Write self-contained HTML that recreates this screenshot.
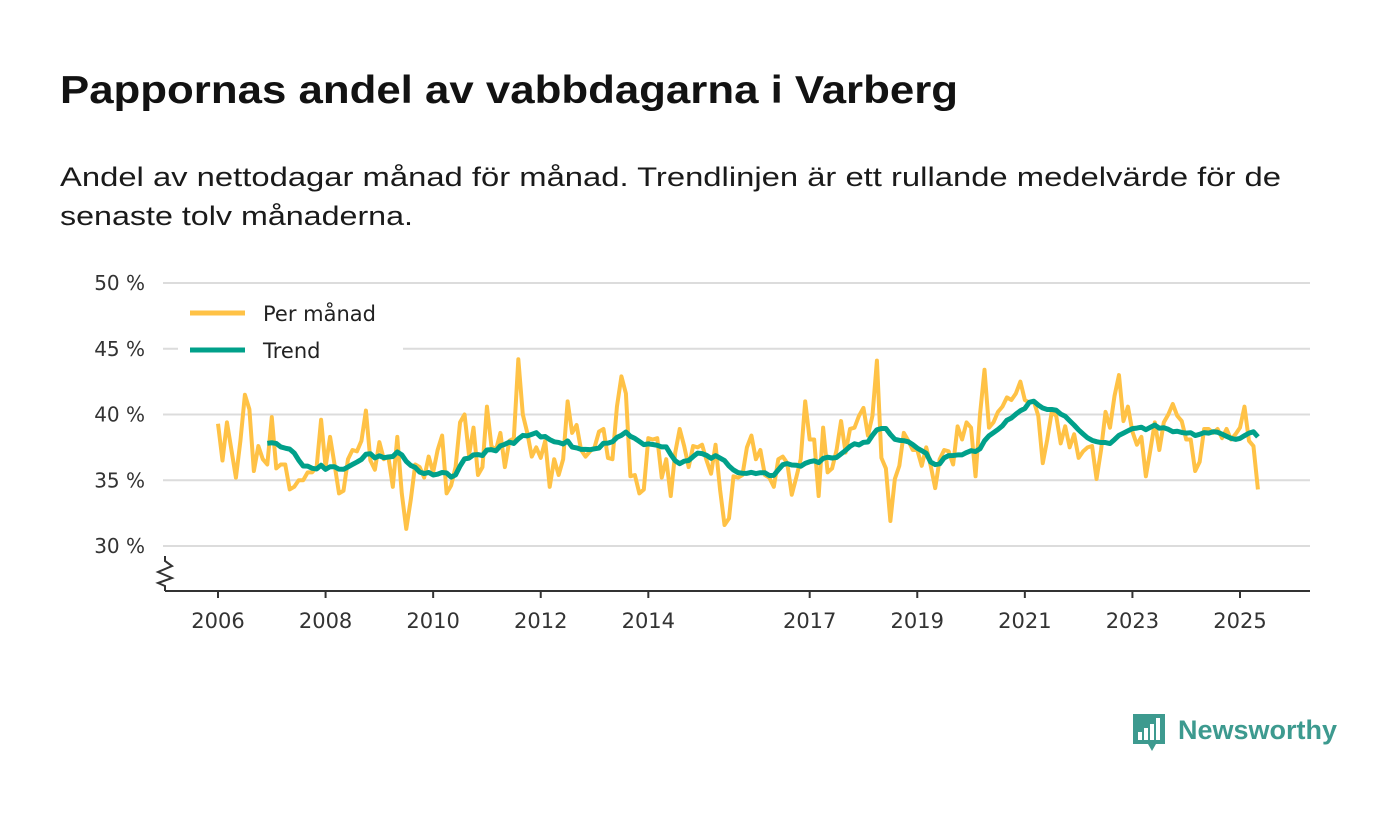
<!DOCTYPE html>
<html><head><meta charset="utf-8">
<style>
body{margin:0;background:#fff;font-family:"Liberation Sans","DejaVu Sans",sans-serif;}
#wrap{position:relative;width:1400px;height:813px;overflow:hidden;}
svg{position:absolute;left:0;top:0;}
</style></head><body>
<div id="wrap">
<svg id="chart" width="1400" height="813">
<text x="60" y="103" font-size="39" font-weight="bold" fill="#121212" textLength="898" lengthAdjust="spacingAndGlyphs" font-family="Liberation Sans, sans-serif">Pappornas andel av vabbdagarna i Varberg</text>
<text x="60" y="186" font-size="27" fill="#1a1a1a" textLength="1221" lengthAdjust="spacingAndGlyphs" font-family="Liberation Sans, sans-serif">Andel av nettodagar månad för månad. Trendlinjen är ett rullande medelvärde för de</text>
<text x="60" y="225" font-size="27" fill="#1a1a1a" textLength="353" lengthAdjust="spacingAndGlyphs" font-family="Liberation Sans, sans-serif">senaste tolv månaderna.</text>
</svg>
</div>
<script>
const startYear = 2006;
const monthly = [
39.3,36.5,39.4,37.3,35.2,38.0,41.5,40.4,35.7,37.6,36.6,36.2,
39.8,35.9,36.2,36.2,34.3,34.5,35.0,35.0,35.6,35.6,36.0,39.6,
36.0,38.3,36.2,34.0,34.2,36.6,37.3,37.2,38.0,40.3,36.5,35.8,
37.9,36.6,36.8,34.5,38.3,34.0,31.3,33.5,36.2,36.0,35.2,36.8,
35.6,37.3,38.4,34.0,34.6,36.0,39.4,40.0,36.9,39.0,35.4,36.0,
40.6,37.6,37.3,38.6,36.0,38.0,38.2,44.2,40.0,38.6,36.8,37.5,
36.7,38.0,34.5,36.6,35.4,36.6,41.0,38.6,39.2,37.3,36.8,37.2,
37.5,38.7,38.9,36.7,36.6,40.6,42.9,41.6,35.3,35.4,34.0,34.3,
38.2,38.1,38.2,35.2,36.6,33.8,37.1,38.9,37.6,36.0,37.6,37.5,
37.7,36.5,35.5,37.7,34.3,31.6,32.1,35.3,35.2,35.4,37.5,
38.4,36.6,37.3,35.4,35.2,34.5,36.6,36.8,36.3,33.9,35.2,36.6,41.0,38.1,38.1,33.8,39.0,35.6,
35.9,37.3,39.5,37.1,38.9,39.0,39.9,40.5,38.4,39.9,44.1,36.7,35.9,31.9,35.1,36.1,38.6,38.0,
37.3,37.3,36.1,37.5,36.1,34.4,36.6,37.3,37.2,36.2,39.1,38.1,39.4,39.0,35.3,40.0,43.4,39.0,
39.4,40.2,40.6,41.3,
41.1,41.6,42.5,41.1,40.9,41.0,39.9,36.3,38.1,40.2,39.9,37.8,39.1,37.5,38.5,36.7,37.2,37.5,
37.6,35.1,37.3,40.2,39.0,41.4,43.0,39.5,40.6,38.7,37.7,38.3,35.3,37.3,39.4,37.3,39.4,40.0,
40.8,39.9,39.5,38.1,38.1,35.7,36.4,38.9,38.9,38.6,38.9,38.2,38.9,38.1,38.5,39.0,40.6,38.0,37.6,34.3
];
const yTicks = [30,35,40,45,50];
const yTickLabels = ["30 %","35 %","40 %","45 %","50 %"];
const xTicks = [2006,2008,2010,2012,2014,2017,2019,2021,2023,2025];
const xTickLabels = ["2006","2008","2010","2012","2014","2017","2019","2021","2023","2025"];
const legendLabels = ["Per månad","Trend"];

const NS="http://www.w3.org/2000/svg";
const svg=document.getElementById('chart');
const FF='DejaVu Sans, sans-serif';
const x0=218,x1=1240,xa=2006,xb=2025;
const X=t=>x0+(t-xa)*(x1-x0)/(xb-xa);
const Y=v=>546-(v-30)*(546-283)/20;
function mk(tag,attrs){const e=document.createElementNS(NS,tag);for(const k in attrs)e.setAttribute(k,attrs[k]);svg.appendChild(e);return e;}

yTicks.forEach((v,i)=>{
  const g=mk('line',{x1:163,x2:1310,y1:Y(v),y2:Y(v),stroke:'#dcdcdc','stroke-width':2});
  
  
  const t=mk('text',{x:145,y:Y(v)+7,'text-anchor':'end','font-size':20,fill:'#333','font-family':FF});
  t.textContent=yTickLabels[i];
  
  
});
const ax=mk('line',{x1:165,x2:1310,y1:591,y2:591,stroke:'#333','stroke-width':2});


const brk=mk('polyline',{points:'165,556 165,561 172,566 158,572 172,578 158,583 165,586 165,591',fill:'none',stroke:'#333','stroke-width':2});


xTicks.forEach((v,i)=>{
  const l=mk('line',{x1:X(v),x2:X(v),y1:591,y2:598,stroke:'#333','stroke-width':2});
  
  
  const t=mk('text',{x:X(v),y:628,'text-anchor':'middle','font-size':21,fill:'#333','font-family':FF});
  t.textContent=xTickLabels[i];
  
  
});
const tx=i=>X(startYear+i/12);
const mp=mk('polyline',{points:monthly.map((v,i)=>tx(i)+','+Y(v)).join(' '),fill:'none',stroke:'#ffc246','stroke-width':4,'stroke-linejoin':'round'});


const trend=[];
for(let i=11;i<monthly.length;i++){let s=0;for(let j=i-11;j<=i;j++)s+=monthly[j];trend.push([i,s/12]);}
const tp=mk('polyline',{points:trend.map(p=>tx(p[0])+','+Y(p[1])).join(' '),fill:'none',stroke:'#00a08a','stroke-width':5,'stroke-linejoin':'round'});


const lb=mk('rect',{x:178,y:292,width:225,height:78,fill:'#fff'});


["#ffc246","#00a08a"].forEach((c,i)=>{
  const yy=313+i*37;
  const l=mk('line',{x1:190,x2:245,y1:yy,y2:yy,stroke:c,'stroke-width':5});
  
  
  const t=mk('text',{x:263,y:yy+8,'font-size':21,fill:'#222','font-family':FF});
  t.textContent=legendLabels[i];
  
  
});
const lg=mk('g',{});


const p=document.createElementNS(NS,'path');
p.setAttribute('d','M1133 714 h32 v30 h-9 l-4 7 l-4 -7 h-15 z');p.setAttribute('fill','#3d9a8f');lg.appendChild(p);
[[1138,732,4,8],[1144,728,4,12],[1150,724,4,16],[1156,718,4,22]].forEach(r=>{const b=document.createElementNS(NS,'rect');b.setAttribute('x',r[0]);b.setAttribute('y',r[1]);b.setAttribute('width',r[2]);b.setAttribute('height',r[3]);b.setAttribute('fill','#fff');lg.appendChild(b);});
const lt=document.createElementNS(NS,'text');
lt.setAttribute('x',1178);lt.setAttribute('y',739);lt.setAttribute('font-size',27);lt.setAttribute('font-weight','bold');lt.setAttribute('fill','#3d9a8f');lt.setAttribute('font-family','Liberation Sans, sans-serif');
lt.textContent='Newsworthy';lg.appendChild(lt);
</script>
</body></html>
